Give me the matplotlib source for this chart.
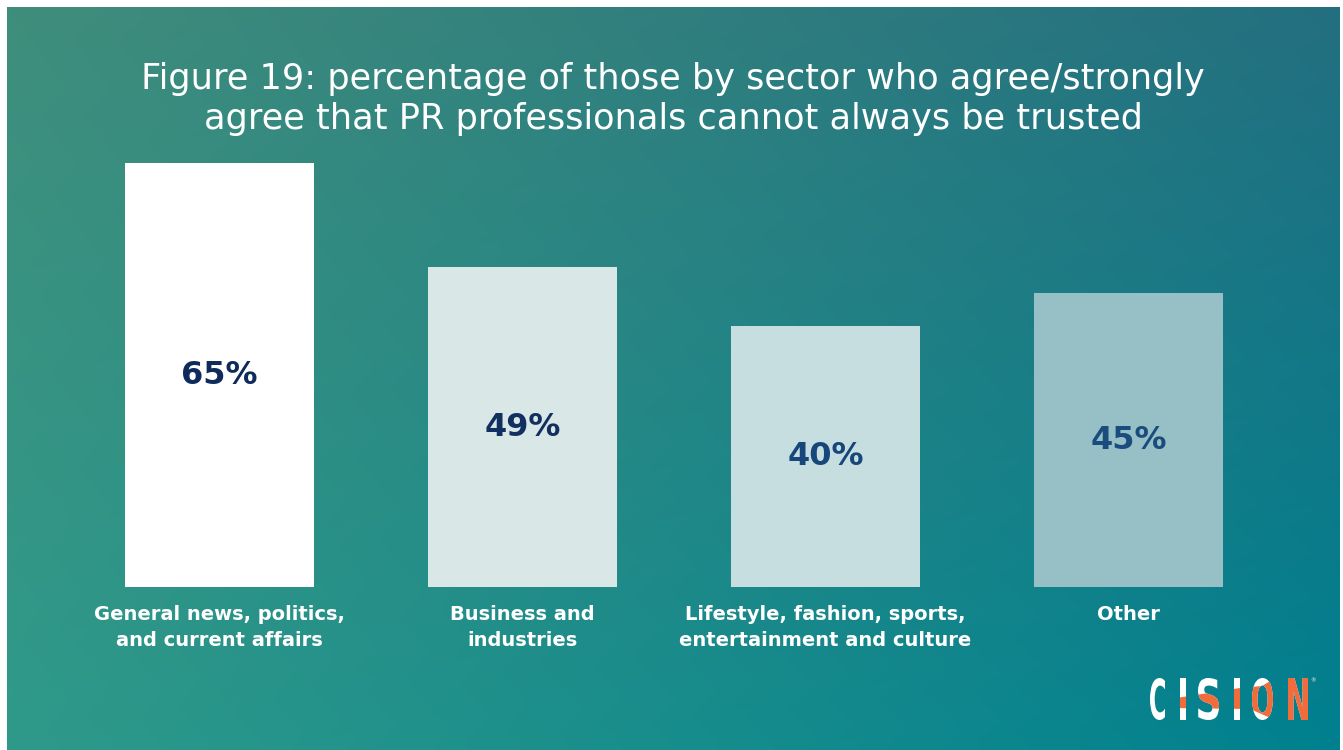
import numpy as np
import matplotlib.pyplot as plt
from matplotlib.textpath import TextPath
from matplotlib.patches import PathPatch, Polygon
from matplotlib.font_manager import FontProperties
from matplotlib.transforms import Affine2D

W, H = 1343, 750

title = ("Figure 19: percentage of those by sector who agree/strongly\n"
         "agree that PR professionals cannot always be trusted")
categories = [
    "General news, politics,\nand current affairs",
    "Business and\nindustries",
    "Lifestyle, fashion, sports,\nentertainment and culture",
    "Other",
]
values = [65, 49, 40, 45]
bar_colors = ["#ffffff", "#d9e8e7", "#c6dedf", "#96c0c5"]
value_colors = ["#0f2b5b", "#11305f", "#17467a", "#1a4c7e"]

fig = plt.figure(figsize=(W / 100, H / 100), dpi=100)
fig.patch.set_facecolor("white")

# full-figure pixel axes for background, title and logo
bg = fig.add_axes([0, 0, 1, 1])
bg.set_xlim(0, W)
bg.set_ylim(H, 0)
bg.axis("off")

tl = np.array([0x3f, 0x8e, 0x7c]) / 255
tr = np.array([0x23, 0x6f, 0x80]) / 255
bl = np.array([0x2f, 0x9a, 0x8a]) / 255
br = np.array([0x00, 0x80, 0x8f]) / 255
u = np.linspace(0, 1, 240)[None, :, None]
v = np.linspace(0, 1, 140)[:, None, None]
grad = (1 - u) * (1 - v) * tl + u * (1 - v) * tr + (1 - u) * v * bl + u * v * br
bg.imshow(grad, extent=(7, 1340, 750, 7), interpolation="bicubic", aspect="auto")

bg.text(673, 99, title, ha="center", va="center", fontsize=25.3, color="white",
        linespacing=1.22, family="DejaVu Sans")

# bars
ax = fig.add_axes([68 / W, (H - 587) / H, 1212 / W, 70 * 424 / 65 / H])
ax.patch.set_alpha(0)
x = np.arange(len(values))
ax.bar(x, values, width=0.624, color=bar_colors)
ax.set_xlim(-0.5, 3.5)
ax.set_ylim(0, 70)
for i, val in enumerate(values):
    ax.text(i, val / 2, f"{val}%", ha="center", va="center", fontsize=23,
            color=value_colors[i], fontweight="semibold")
ax.set_xticks(x)
ax.set_xticklabels(categories, color="white", fontsize=14, fontweight="semibold",
                   linespacing=1.45)
ax.tick_params(axis="x", length=0, pad=13)
ax.set_yticks([])
for s in ax.spines.values():
    s.set_visible(False)

# CISION logo
letters = [("C", 1150, 15), ("I", 1180, 6), ("S", 1198, 21),
           ("I", 1234, 6), ("O", 1252, 21), ("N", 1288, 20)]
cap_top, cap_bot = 678, 720
band = Polygon([(1170, 699), (1240, 688), (1262, 686), (1285, 672), (1320, 672),
                (1320, 726), (1290, 726), (1266, 716), (1250, 709), (1170, 708)],
               closed=True, transform=bg.transData)
fp = FontProperties(family="DejaVu Sans", weight="bold")
for ch, x0, w in letters:
    tp = TextPath((0, 0), ch, size=1, prop=fp)
    ext = tp.get_extents()
    tf = (Affine2D().translate(-ext.x0, -ext.y0)
          .scale(w / ext.width, -(cap_bot - cap_top) / ext.height)
          .translate(x0, cap_bot))
    path = tf.transform_path(tp)
    bg.add_patch(PathPatch(path, facecolor="white", edgecolor="none"))
    orange = PathPatch(path, facecolor="#f26b3a", edgecolor="none")
    bg.add_patch(orange)
    orange.set_clip_path(band)
bg.text(1313, 681, "®", fontsize=4, color="white", ha="center", va="center")

fig.savefig("out.png", dpi=100)
